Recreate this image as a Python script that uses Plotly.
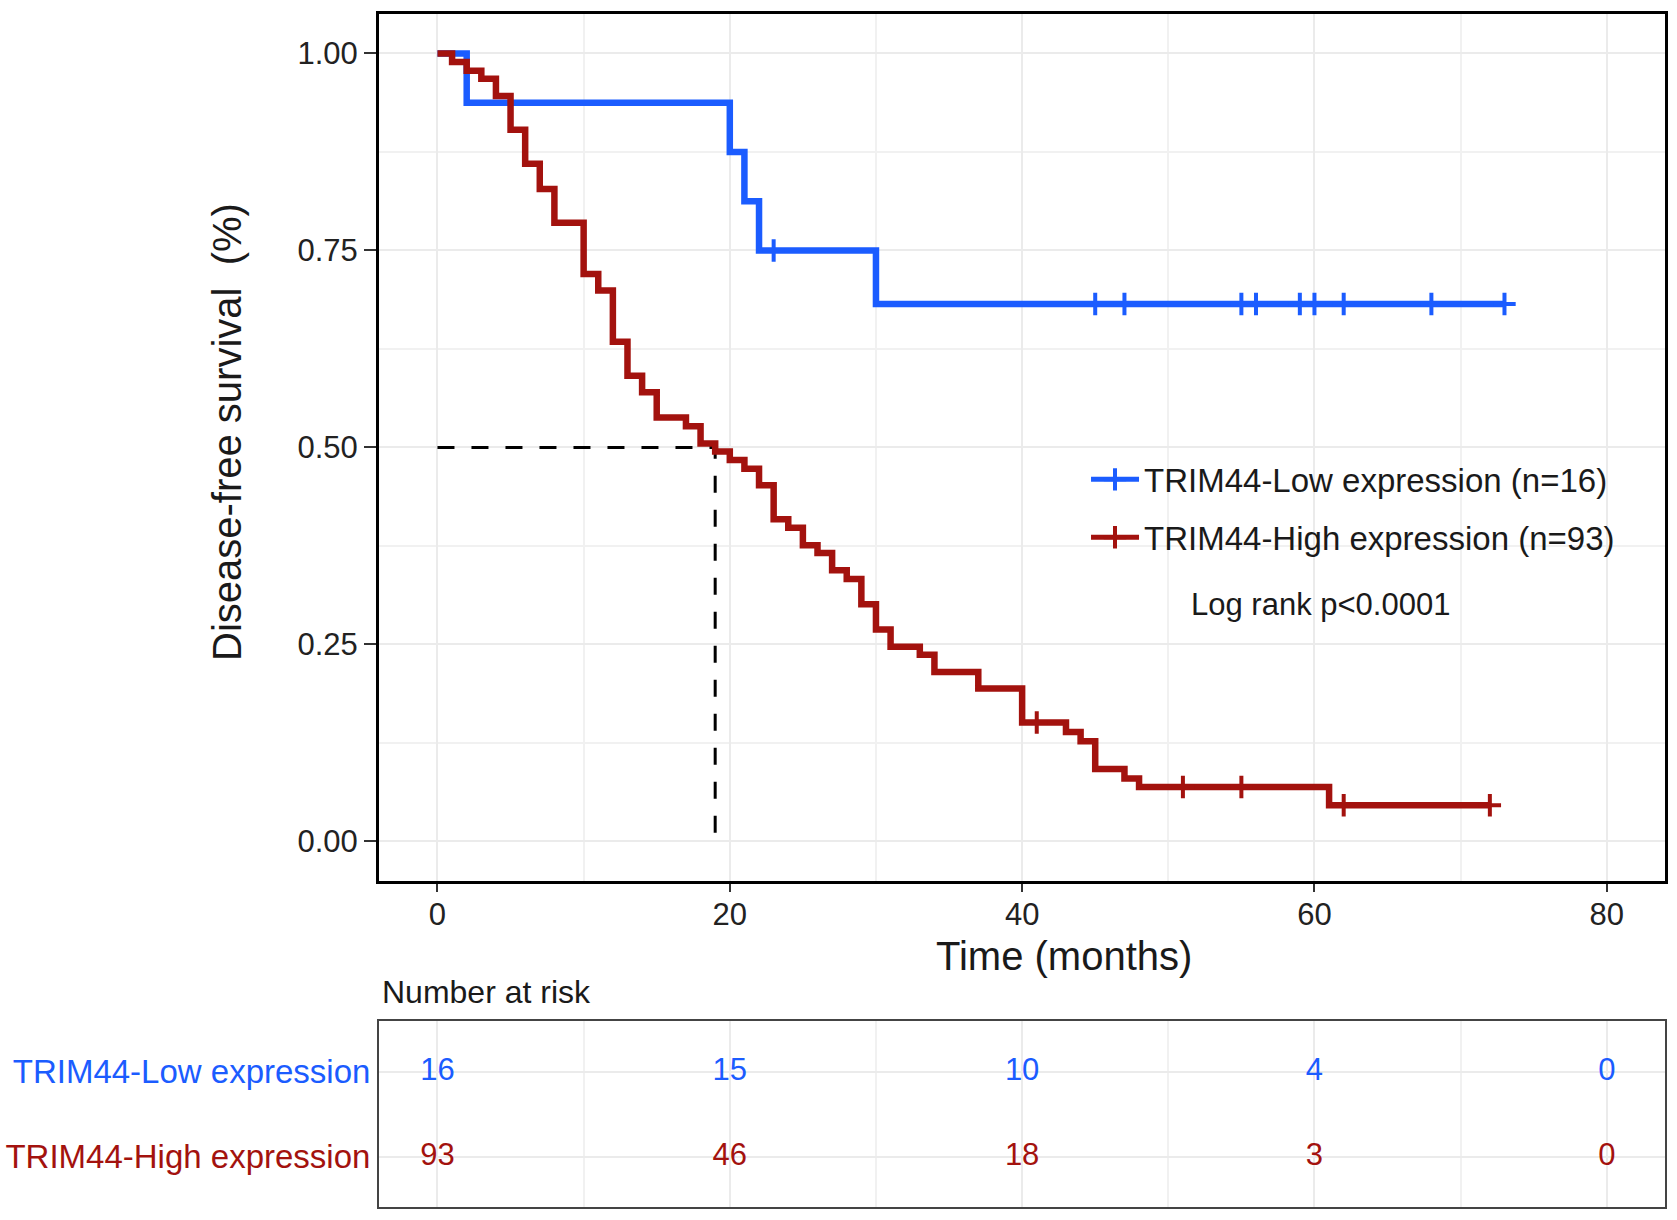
import plotly.graph_objects as go

# Kaplan-Meier Kurven, Werte
low_name = "TRIM44-Low expression (n=16)"
low_time = [0, 2, 20, 21, 22, 30, 73]
low_surv = [1.0, 0.9375, 0.875, 0.8125, 0.75, 0.682, 0.682]
low_censor = [23, 45, 47, 55, 56, 59, 60, 62, 68, 73]

high_name = "TRIM44-High expression (n=93)"
high_time = [0, 1, 2, 3, 4, 5, 6, 7, 8, 10, 11, 12, 13, 14, 15, 17, 18, 19, 20, 21,
             22, 23, 24, 25, 26, 27, 28, 29, 30, 31, 33, 34, 37, 40, 43, 44, 45, 47, 48, 61, 72]
high_surv = [1.0, 0.989, 0.978, 0.968, 0.946, 0.903, 0.860, 0.828, 0.785, 0.720, 0.699,
             0.634, 0.591, 0.570, 0.538, 0.527, 0.505, 0.495, 0.484, 0.473, 0.452, 0.409,
             0.398, 0.376, 0.366, 0.344, 0.333, 0.301, 0.269, 0.247, 0.237, 0.215, 0.194,
             0.151, 0.139, 0.127, 0.092, 0.080, 0.069, 0.046, 0.046]
high_censor = [41, 51, 55, 62, 72]

median_time = 19
median_surv = 0.5

# Number at risk Tabelle
risk_times = [0, 20, 40, 60, 80]
risk_low = [16, 15, 10, 4, 0]
risk_high = [93, 46, 18, 3, 0]
row_labels = ["TRIM44-Low expression", "TRIM44-High expression"]

x_ticks = [0, 20, 40, 60, 80]
y_ticks = [0, 0.25, 0.5, 0.75, 1.0]

BLUE = "#1b5cff"
RED = "#a3120e"
FONT = "Liberation Sans, Arial, sans-serif"


def surv_at(times, survs, t):
    # Stufenfunktion: letzter Wert mit Zeit <= t
    s = survs[0]
    for ti, si in zip(times, survs):
        if ti <= t:
            s = si
    return s


fig = go.Figure()

# gestrichelte Median-Linie
fig.add_trace(go.Scatter(
    x=[0, median_time, median_time], y=[median_surv, median_surv, 0],
    mode="lines", line=dict(color="black", width=3, dash="17px,17px"),
    showlegend=False, hoverinfo="skip"))

groups = [
    (low_name, low_time, low_surv, low_censor, BLUE, "low"),
    (high_name, high_time, high_surv, high_censor, RED, "high"),
]

for name, t, s, cens, col, grp in groups:
    fig.add_trace(go.Scatter(
        x=t, y=s, mode="lines", line=dict(color=col, width=6.5, shape="hv"),
        legendgroup=grp, showlegend=False, name=name))
    fig.add_trace(go.Scatter(
        x=cens, y=[surv_at(t, s, c) for c in cens], mode="markers",
        marker=dict(symbol="cross-thin", size=16, line=dict(color=col, width=4)),
        legendgroup=grp, showlegend=False, name=name))
    # Legendeneintrag (Linie mit Kreuz)
    fig.add_trace(go.Scatter(
        x=[None], y=[None], mode="lines+markers", name=name, legendgroup=grp,
        line=dict(color=col, width=5),
        marker=dict(symbol="cross-thin", size=16, line=dict(color=col, width=4))))

# Risiko-Tabelle
fig.add_trace(go.Scatter(
    x=risk_times, y=[1] * len(risk_times), mode="text", text=[str(v) for v in risk_low],
    textfont=dict(family=FONT, size=31, color=BLUE), xaxis="x2", yaxis="y2",
    showlegend=False, hoverinfo="skip"))
fig.add_trace(go.Scatter(
    x=risk_times, y=[0] * len(risk_times), mode="text", text=[str(v) for v in risk_high],
    textfont=dict(family=FONT, size=31, color=RED), xaxis="x2", yaxis="y2",
    showlegend=False, hoverinfo="skip"))

x_dom = [0.226, 0.993]

fig.update_layout(
    width=1677, height=1220,
    margin=dict(l=0, r=0, t=0, b=0),
    paper_bgcolor="white", plot_bgcolor="white",
    font=dict(family=FONT, color="#1a1a1a"),
    xaxis=dict(
        domain=x_dom, range=[-4, 84], tickvals=x_ticks, automargin=False,
        showline=True, linecolor="black", linewidth=3, mirror=True,
        ticks="outside", ticklen=8, tickwidth=2, tickcolor="#333",
        ticklabelstandoff=-4,
        tickfont=dict(size=31, color="#222"),
        showgrid=True, gridcolor="#ebebeb", gridwidth=2, zeroline=False,
        minor=dict(dtick=10, showgrid=True, gridcolor="#f1f1f1", gridwidth=1.5),
    ),
    yaxis=dict(
        domain=[0.278, 0.9885], range=[-0.05, 1.05], tickvals=y_ticks,
        ticktext=["%.2f" % v for v in y_ticks], automargin=False,
        showline=True, linecolor="black", linewidth=3, mirror=True,
        ticks="outside", ticklen=12, tickwidth=2, tickcolor="#333",
        tickfont=dict(size=31, color="#222"),
        showgrid=True, gridcolor="#ebebeb", gridwidth=2, zeroline=False,
        minor=dict(dtick=0.125, tick0=0, showgrid=True, gridcolor="#f1f1f1", gridwidth=1.5),
    ),
    xaxis2=dict(
        domain=x_dom, range=[-4, 84], anchor="y2", automargin=False,
        showticklabels=False, ticks="", tickvals=x_ticks,
        showline=True, linecolor="#444", linewidth=2, mirror=True,
        showgrid=True, gridcolor="#ebebeb", gridwidth=2, zeroline=False,
        minor=dict(dtick=10, showgrid=True, gridcolor="#f1f1f1", gridwidth=1.5),
    ),
    yaxis2=dict(
        domain=[0.0107, 0.1631], range=[-0.589, 1.599], anchor="x2", automargin=False,
        tickvals=[1, 0],
        ticktext=['<span style="color:%s">%s</span>' % (BLUE, row_labels[0]),
                  '<span style="color:%s">%s</span>' % (RED, row_labels[1])],
        tickfont=dict(size=33), ticks="",
        showline=True, linecolor="#444", linewidth=2, mirror=True,
        showgrid=True, gridcolor="#ebebeb", gridwidth=2, zeroline=False,
    ),
    legend=dict(
        x=0.6476, y=0.630, xanchor="left", yanchor="top",
        bgcolor="rgba(0,0,0,0)", font=dict(size=33, color="#1a1a1a"),
        itemwidth=48, tracegroupgap=12, traceorder="grouped",
    ),
    annotations=[
        dict(text="Disease-free survival  (%)", x=227 / 1677, y=1 - 432 / 1220,
             xref="paper", yref="paper", xanchor="center", yanchor="middle",
             textangle=-90, showarrow=False, font=dict(size=40, color="#1a1a1a")),
        dict(text="Time (months)", x=1064 / 1677, y=1 - 956 / 1220,
             xref="paper", yref="paper", xanchor="center", yanchor="middle",
             showarrow=False, font=dict(size=40, color="#1a1a1a")),
        dict(text="Number at risk", x=380 / 1677, y=1 - 992 / 1220,
             xref="paper", yref="paper", xanchor="left", yanchor="middle",
             showarrow=False, font=dict(size=32, color="#1a1a1a")),
        dict(text="Log rank p<0.0001", x=1320 / 1677, y=1 - 604 / 1220,
             xref="paper", yref="paper", xanchor="center", yanchor="middle",
             showarrow=False, font=dict(size=31, color="#1a1a1a")),
    ],
)

fig.write_html("out.html", config={"displayModeBar": False},
               post_script="document.body.style.margin='0';")
